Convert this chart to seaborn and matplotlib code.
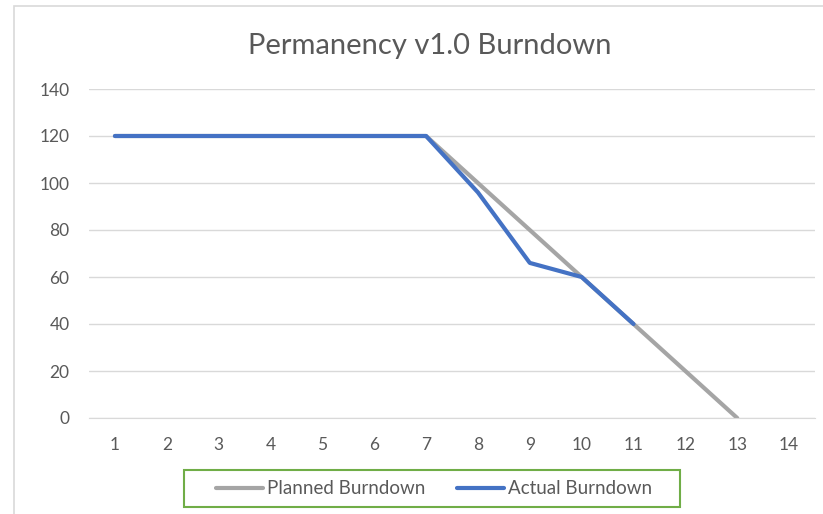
import seaborn as sns
import matplotlib.pyplot as plt
import matplotlib.patches as mpatches
import pandas as pd

days = list(range(1, 15))
planned = [120, 120, 120, 120, 120, 120, 120, 100, 80, 60, 40, 20, 0, None]
actual = [120, 120, 120, 120, 120, 120, 120, 96, 66, 60, 40, None, None, None]
y_ticks = [0, 20, 40, 60, 80, 100, 120, 140]

rows = []
for d, p, a in zip(days, planned, actual):
    if p is not None:
        rows.append([d, p, "Planned Burndown"])
    if a is not None:
        rows.append([d, a, "Actual Burndown"])
df = pd.DataFrame(rows, columns=["day", "points", "series"])

sns.set_style("white")
plt.rcParams['font.family'] = ['Lato', 'DejaVu Sans']

W, H = 823, 514
fig = plt.figure(figsize=(W / 100, H / 100), dpi=100)
ax = fig.add_axes([89 / W, 1 - 418 / H, (815 - 89) / W, (418 - 89) / H])

# chart area border
fig.patches.append(mpatches.Rectangle((14 / W, -0.1), 1.2, 1 - 6 / H + 0.1,
                                      transform=fig.transFigure, fill=False,
                                      edgecolor="#d9d9d9", linewidth=1.2))

sns.lineplot(data=df, x="day", y="points", hue="series",
             palette={"Planned Burndown": "#a5a5a5", "Actual Burndown": "#4472c4"},
             hue_order=["Planned Burndown", "Actual Burndown"],
             linewidth=3, ax=ax, legend=True)

ax.set_xlim(0.5, 14.5)
ax.set_ylim(0, 140)
ax.set_xticks(days)
ax.set_yticks(y_ticks)
ax.yaxis.grid(True, color="#d9d9d9", linewidth=1)
ax.set_axisbelow(True)
for s in ["top", "right", "left"]:
    ax.spines[s].set_visible(False)
ax.spines["bottom"].set_color("#d9d9d9")
ax.tick_params(axis="both", length=0, labelsize=12.5, colors="#595959")
ax.tick_params(axis="x", pad=14)
ax.tick_params(axis="y", pad=14)
ax.set_xlabel("")
ax.set_ylabel("")

fig.text(430 / W, 1 - 54 / H, "Permanency v1.0 Burndown", ha="center", va="baseline",
         fontsize=21, color="#595959")

handles, labels = ax.get_legend_handles_labels()
ax.get_legend().remove()
leg = fig.legend(handles, labels, loc="center", bbox_to_anchor=(434 / W, 1 - 489 / H),
                 ncol=2, frameon=False, fontsize=13.5,
                 handlelength=2.5, handletextpad=0.2, columnspacing=1.7)
for t in leg.get_texts():
    t.set_color("#595959")

# legend frame
fig.patches.append(mpatches.Rectangle((184 / W, 1 - 507 / H), (680 - 184) / W, 37 / H,
                                      transform=fig.transFigure, fill=False,
                                      edgecolor="#70ad47", linewidth=1.5))

fig.savefig("out.png", dpi=100)
